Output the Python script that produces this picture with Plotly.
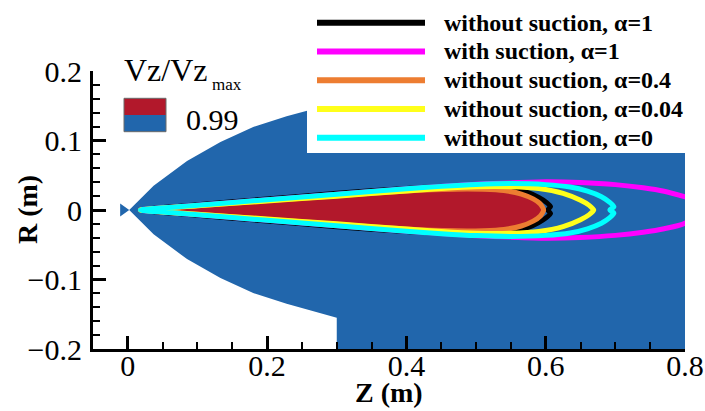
import plotly.graph_objects as go

# ---------------------------------------------------------------- data
# Flow domain boundary (upper half of the axisymmetric inlet cone), metres
DOMAIN_Z = [0.002, 0.015, 0.037, 0.085, 0.133, 0.18, 0.228, 0.276, 0.30]
DOMAIN_R = [0.0, 0.013, 0.035, 0.0706, 0.098, 0.1195, 0.135, 0.148, 0.155]
DOMAIN_Z_END = 0.8
DOMAIN_R_MAX = 0.2
NOZZLE_Z = [-0.011, -0.011]
NOZZLE_R = [0.0095, -0.0095]

# Vz/Vz_max = 0.99 iso-lines, upper half (z, r) from jet origin to tip
BLACK_Z = [0.018, 0.1, 0.2, 0.3, 0.4, 0.47, 0.52, 0.55, 0.575, 0.59, 0.601, 0.607, 0.603]
BLACK_R = [0.0, 0.0075, 0.0158, 0.024, 0.031, 0.034, 0.0335, 0.031, 0.025, 0.018, 0.011, 0.005, 0.0]

MAGENTA_Z = [0.018, 0.1, 0.2, 0.3, 0.4, 0.5, 0.55, 0.6, 0.65, 0.7, 0.74, 0.77, 0.8, 0.83]
MAGENTA_R = [0.0, 0.0068, 0.0148, 0.0228, 0.0305, 0.0369, 0.039, 0.0405, 0.0395, 0.0365, 0.032, 0.027, 0.019, 0.01]

ORANGE_Z = [0.018, 0.1, 0.2, 0.3, 0.4, 0.47, 0.51, 0.54, 0.565, 0.582, 0.592, 0.597]
ORANGE_R = [0.0, 0.006, 0.0135, 0.0205, 0.0275, 0.030, 0.0298, 0.028, 0.023, 0.016, 0.009, 0.0]

YELLOW_Z = [0.018, 0.1, 0.2, 0.3, 0.4, 0.45, 0.5, 0.55, 0.59, 0.625, 0.65, 0.662, 0.669]
YELLOW_R = [0.0, 0.006, 0.013, 0.0198, 0.0275, 0.031, 0.0335, 0.0335, 0.031, 0.024, 0.014, 0.007, 0.0]

CYAN_Z = [0.018, 0.1, 0.2, 0.3, 0.4, 0.45, 0.5, 0.55, 0.6, 0.635, 0.66, 0.68, 0.692, 0.698, 0.692]
CYAN_R = [0.0, 0.0068, 0.0148, 0.0228, 0.0305, 0.034, 0.0368, 0.038, 0.0365, 0.033, 0.027, 0.019, 0.011, 0.0045, 0.0]

CASE_LABELS = [
    "without suction, α=1",
    "with suction, α=1",
    "without suction, α=0.4",
    "without suction, α=0.04",
    "without suction, α=0",
]
CASE_COLORS = ["#000000", "#ff00ff", "#ed7d31", "#ffff1a", "#00ffff"]
CASE_CURVES = [
    (BLACK_Z, BLACK_R),
    (MAGENTA_Z, MAGENTA_R),
    (ORANGE_Z, ORANGE_R),
    (YELLOW_Z, YELLOW_R),
    (CYAN_Z, CYAN_R),
]

LEVEL_LABEL = "0.99"
X_TICKS = [0, 0.2, 0.4, 0.6, 0.8]
Y_TICKS = [-0.2, -0.1, 0, 0.1, 0.2]

# ---------------------------------------------------------------- styling
BLUE = "#2166ac"
RED = "#b2182b"
FONT = "Liberation Serif"
W, H = 705, 411
ML, MR, MT, MB = 93, 20, 71, 62


def px(xp):
    return (xp - ML) / (W - ML - MR)


def py(yp):
    return (H - MB - yp) / (H - MT - MB)


def closed(zs, rs):
    """Mirror an upper-half contour about the axis into a closed loop."""
    z_low = list(reversed(zs[:-1]))
    r_low = [-r for r in reversed(rs[:-1])]
    return list(zs) + z_low, list(rs) + r_low


fig = go.Figure()

# computational domain (blue = below the 0.99 level)
dz = list(NOZZLE_Z[:1]) + DOMAIN_Z + [DOMAIN_Z[-1], DOMAIN_Z_END, DOMAIN_Z_END, DOMAIN_Z[-1]]
dr = list(NOZZLE_R[:1]) + DOMAIN_R + [DOMAIN_R_MAX, DOMAIN_R_MAX, -DOMAIN_R_MAX, -DOMAIN_R_MAX]
dz += list(reversed(DOMAIN_Z)) + NOZZLE_Z[1:]
dr += [-r for r in reversed(DOMAIN_R)] + NOZZLE_R[1:]
fig.add_trace(go.Scatter(x=dz, y=dr, mode="lines", fill="toself", fillcolor=BLUE,
                         line=dict(width=0, color=BLUE), hoverinfo="skip", showlegend=False))

# core region above the 0.99 level
fz, fr = closed(ORANGE_Z, ORANGE_R)
fig.add_trace(go.Scatter(x=fz, y=fr, mode="lines", fill="toself", fillcolor=RED,
                         line=dict(width=0, color=RED), hoverinfo="skip", showlegend=False))

# iso-lines for each case
for (zs, rs), color, name in zip(CASE_CURVES, CASE_COLORS, CASE_LABELS):
    cz, cr = closed(zs, rs)
    fig.add_trace(go.Scatter(x=cz, y=cr, mode="lines", name=name,
                             line=dict(color=color, width=5, shape="spline", smoothing=0.6),
                             showlegend=False))

shapes = []
annotations = []

# legend box with the case lines
shapes.append(dict(type="rect", xref="paper", yref="paper", layer="above",
                   x0=px(307), x1=px(W + 5), y0=py(153), y1=py(-5),
                   fillcolor="white", line=dict(width=0)))
row0, row_step = 22.7, 28.75
for i, (label, color) in enumerate(zip(CASE_LABELS, CASE_COLORS)):
    yc = py(row0 + i * row_step)
    shapes.append(dict(type="line", xref="paper", yref="paper", layer="above",
                       x0=px(317), x1=px(425), y0=yc, y1=yc,
                       line=dict(color=color, width=6)))
    annotations.append(dict(xref="paper", yref="paper", x=px(442), y=yc,
                            xanchor="left", yanchor="middle", showarrow=False,
                            text=label,
                            font=dict(family=FONT, size=24, color="black", weight="bold")))

# contour level key
shapes.append(dict(type="rect", xref="paper", yref="paper", layer="above",
                   x0=px(124), x1=px(166), y0=py(115), y1=py(98.3),
                   fillcolor=RED, line=dict(width=0)))
shapes.append(dict(type="rect", xref="paper", yref="paper", layer="above",
                   x0=px(124), x1=px(166), y0=py(131.7), y1=py(115),
                   fillcolor=BLUE, line=dict(width=0)))
shapes.append(dict(type="rect", xref="paper", yref="paper", layer="above",
                   x0=px(124), x1=px(166), y0=py(131.7), y1=py(98.3),
                   fillcolor="rgba(0,0,0,0)", line=dict(width=1, color="#6a6a6a")))
annotations.append(dict(xref="paper", yref="paper", x=px(184), y=py(119.5),
                        xanchor="left", yanchor="middle", showarrow=False,
                        text=LEVEL_LABEL, font=dict(family=FONT, size=30, color="black")))
annotations.append(dict(xref="paper", yref="paper", x=px(122), y=py(70),
                        xanchor="left", yanchor="middle", showarrow=False,
                        text="Vz/Vz", font=dict(family=FONT, size=32, color="black")))
annotations.append(dict(xref="paper", yref="paper", x=px(210), y=py(84),
                        xanchor="left", yanchor="middle", showarrow=False,
                        text="max", font=dict(family=FONT, size=17, color="black")))

# axis titles
annotations.append(dict(xref="paper", yref="paper", x=px(389), y=py(410),
                        xanchor="center", yanchor="bottom", showarrow=False,
                        text="Z (m)",
                        font=dict(family=FONT, size=28, color="black", weight="bold")))
annotations.append(dict(xref="paper", yref="paper", x=px(27), y=py(210),
                        xanchor="center", yanchor="middle", showarrow=False,
                        text="R (m)", textangle=-90,
                        font=dict(family=FONT, size=28, color="black", weight="bold")))

axis_common = dict(
    showline=True, linewidth=3, linecolor="black", mirror=False,
    ticks="inside", ticklen=13, tickwidth=3, tickcolor="black",
    showgrid=False, zeroline=False, automargin=False,
    tickfont=dict(family=FONT, size=30, color="black"),
)

fig.update_layout(
    width=W, height=H,
    margin=dict(l=ML, r=MR, t=MT, b=MB, autoexpand=False),
    paper_bgcolor="white", plot_bgcolor="white",
    showlegend=False,
    shapes=shapes, annotations=annotations,
    xaxis=dict(
        range=[-0.05, 0.8], tickmode="array", tickvals=X_TICKS,
        minor=dict(dtick=0.05, tick0=0, ticks="inside", ticklen=7, tickwidth=2, tickcolor="black"),
        ticklabelstandoff=-12,
        **axis_common,
    ),
    yaxis=dict(
        range=[-0.2, 0.2], tickmode="array", tickvals=Y_TICKS,
        minor=dict(dtick=0.02, tick0=0, ticks="inside", ticklen=7, tickwidth=2, tickcolor="black"),
        ticklabelstandoff=2,
        **axis_common,
    ),
)

fig.write_html("out.html")
